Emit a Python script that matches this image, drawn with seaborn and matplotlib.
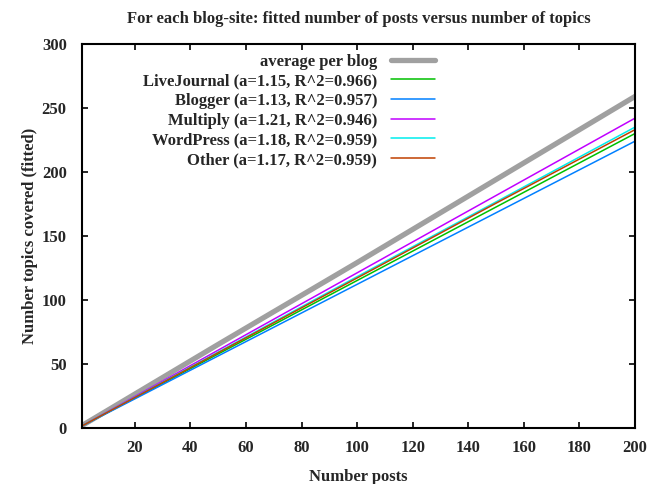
import matplotlib
matplotlib.use("Agg")
import matplotlib.pyplot as plt
import seaborn as sns
import pandas as pd

# values (lines are near-straight fits)
posts = [1, 50, 100, 150, 200]
avg_blog = [1.5, 65, 129, 194, 259]
livejournal = [1.2, 57.5, 115, 172.5, 230]
blogger = [1.1, 56, 112, 168, 224]
multiply = [1.2, 60.5, 121, 181.5, 242]
wordpress = [1.2, 59, 118, 176.5, 235]
other = [1.2, 58.5, 117, 175.5, 233]

labels = ["average per blog",
          "LiveJournal (a=1.15, R^2=0.966)",
          "Blogger (a=1.13, R^2=0.957)",
          "Multiply (a=1.21, R^2=0.946)",
          "WordPress (a=1.18, R^2=0.959)",
          "Other (a=1.17, R^2=0.959)"]
series = [avg_blog, livejournal, blogger, multiply, wordpress, other]
colors = ["#a0a0a0", "#00c000", "#0080ff", "#c000ff", "#00eeee", "#c04000"]
widths = [3.8, 1.1, 1.1, 1.1, 1.1, 1.1]

sns.set_style("ticks")
plt.rcParams['font.family'] = ['Liberation Serif', 'DejaVu Serif']
fontsize = 12

fig, ax = plt.subplots(figsize=(6.49, 4.84), dpi=100)
fig.subplots_adjust(left=0.1263, right=0.9784, bottom=0.1167, top=0.909)

for lab, vals, c, lw in zip(labels, series, colors, widths):
    df = pd.DataFrame({"posts": posts, "topics": vals})
    sns.lineplot(data=df, x="posts", y="topics", ax=ax, color=c, lw=lw, label=lab)

ax.set_xlim(1, 200)
ax.set_ylim(0, 300)
ax.set_xticks(range(20, 201, 20))
ax.set_yticks(range(0, 301, 50))
ax.tick_params(direction="in", length=4, width=1.2, top=True, right=True,
               labelsize=fontsize, color="black")
ax.tick_params(axis="x", pad=9)
ax.tick_params(axis="y", pad=11)
for t in ax.get_xticklabels() + ax.get_yticklabels():
    t.set_fontweight("bold")
for s in ax.spines.values():
    s.set_linewidth(1.5)
    s.set_color("black")

ax.set_xlabel("Number posts", fontsize=fontsize, fontweight="bold", labelpad=9)
ax.set_ylabel("Number topics covered (fitted)", fontsize=fontsize, fontweight="bold", labelpad=3)
ax.set_title("For each blog-site: fitted number of posts versus number of topics",
             fontsize=fontsize, fontweight="bold", pad=15)

leg = ax.legend(loc="upper right", bbox_to_anchor=(0.638, 0.975), frameon=False,
                markerfirst=False, handlelength=2.6, handletextpad=0.85,
                labelspacing=0.22, borderpad=0, borderaxespad=0,
                prop={"size": fontsize, "weight": "bold"})

plt.savefig("out.png", dpi=100)
